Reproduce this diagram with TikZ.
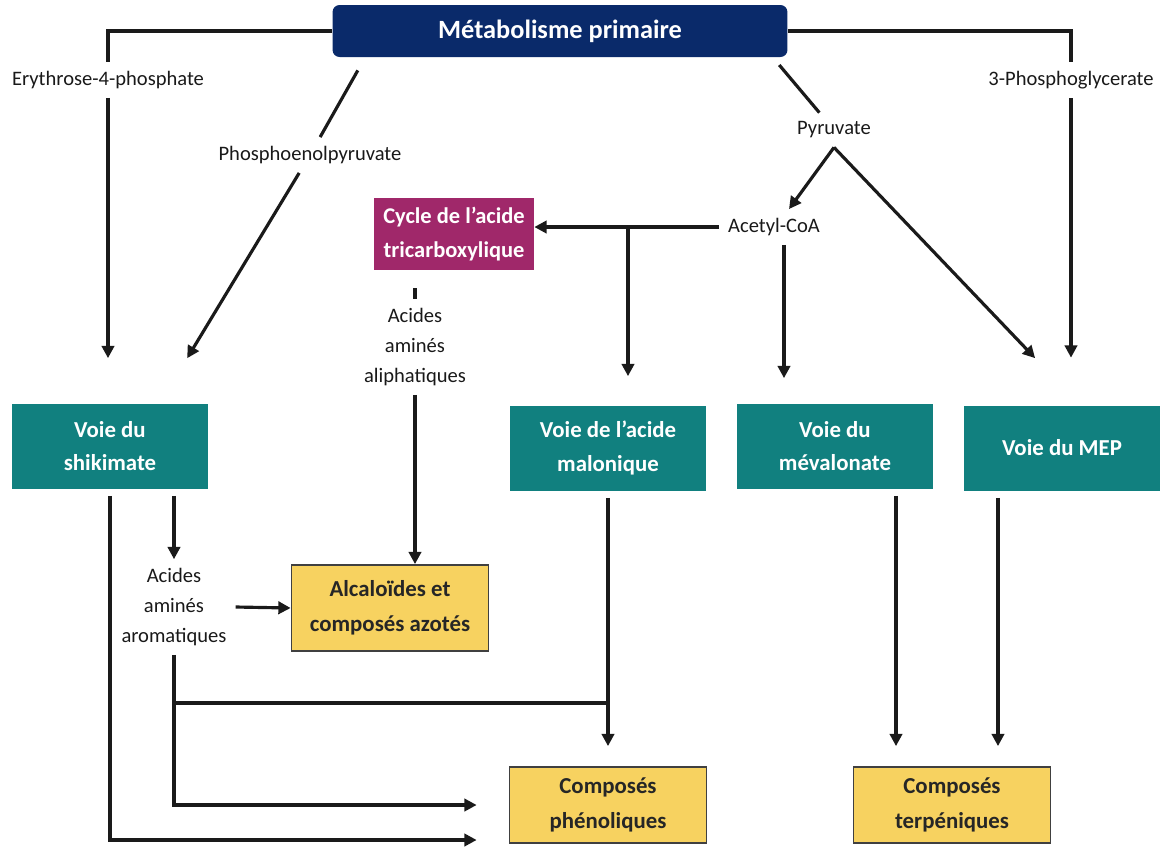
\documentclass[tikz,border=0pt]{standalone}
\usepackage{fontspec}
\setmainfont{Carlito}
\usetikzlibrary{arrows.meta, positioning}

\definecolor{bleunuit}{HTML}{0A2A6A}
\definecolor{sarcelle}{HTML}{11807F}
\definecolor{prune}{HTML}{A0286A}
\definecolor{jaune}{HTML}{F7D260}
\definecolor{trait}{HTML}{1A1A1A}

\tikzset{
  voie/.style={rectangle, fill=sarcelle, text=white, align=center,
    font=\fontsize{13}{19}\selectfont\bfseries, minimum width=3.94cm, minimum height=1.7cm},
  produit/.style={rectangle, fill=jaune, draw=black!75, line width=1pt, text=black!85,
    align=center, font=\fontsize{13}{20}\selectfont\bfseries, minimum width=3.94cm},
  etiq/.style={align=center, inner sep=5pt, font=\fontsize{11.7}{17}\selectfont, text=black!90},
  ligne/.style={color=trait, line width=1.8pt},
  fleche/.style={ligne, -{Triangle[length=7pt, width=7pt]}},
}

\begin{document}
\begin{tikzpicture}[x=0.02cm, y=-0.02cm]
        \useasboundingbox (0,0) rectangle (1161,850);
        \node[rectangle, rounded corners=4pt, fill=bleunuit, text=white, font=\fontsize{15}{18}\selectfont\bfseries,
              minimum width=9.1cm, minimum height=1.04cm] (metab) at (560,31) {Métabolisme primaire};
        \node[voie]                                 (shik)  at (110,446) {Voie du\\shikimate};
        \node[voie]                                 (malo)  at (608,448) {Voie de l’acide\\malonique};
        \node[voie]                                 (meva)  at (835,446) {Voie du\\mévalonate};
        \node[voie]                                 (mep)   at (1062,448) {Voie du MEP};
        \node[rectangle, fill=prune, text=white, align=center, font=\fontsize{12.8}{19}\selectfont\bfseries,
              minimum width=3.2cm, minimum height=1.44cm] (cycle) at (454,234) {Cycle de l’acide\\tricarboxylique};
        \node[produit, minimum height=1.72cm]      (alca)  at (390,608) {Alcaloïdes et\\composés azotés};
        \node[produit, minimum height=1.52cm]      (phen)  at (608,805) {Composés\\phénoliques};
        \node[produit, minimum height=1.52cm]      (terp)  at (952,805) {Composés\\terpéniques};
        \node[etiq]                                 (ery)   at (108,80)  {Erythrose-4-phosphate};
        \node[etiq]                                 (pgly)  at (1071,80) {3-Phosphoglycerate};
        \node[etiq]                                 (pep)   at (310,155) {Phosphoenolpyruvate};
        \node[etiq]                                 (pyr)   at (834,130) {Pyruvate};
        \node[etiq]                                 (acoa)  at (774,227) {Acetyl-CoA};
        \node[etiq]                                 (aliph) at (415,347) {Acides\\aminés\\aliphatiques};
        \node[etiq]                                 (arom)  at (174,607) {Acides\\aminés\\aromatiques};
        \coordinate                                 (jonc)  at (608,703);
        \draw[ligne] (metab.west) -| (ery.north);
        \draw[ligne] (metab.east) -| (pgly.north);
        \draw[ligne, shorten <=0.3cm] ([xshift=0.66cm]metab.south west) -- (pep);
        \draw[ligne, shorten <=0.2cm] ([xshift=-0.3cm]metab.south east) -- (pyr);
        \draw[ligne, shorten <=0.36cm] (cycle.south -| aliph.north) -- (aliph.north);
        \draw[ligne] (arom.south |- jonc) -- (jonc);
        \path[fleche]
          (ery.south)  edge [shorten >=0.9cm]  (ery.south |- shik.north)
          (pgly.south) edge [shorten >=0.95cm] (pgly.south |- mep.north)
          (pep)        edge [shorten >=1.05cm] ([xshift=1cm]shik.north)
          (pyr.south)  edge []                 ([xshift=0.3cm]acoa.north)
                       edge [shorten >=1.3cm]  ([xshift=0.36cm]mep.north)
          (acoa.west)  edge []                 (acoa.west -| cycle.east)
          ([xshift=0.4cm]malo.north |- acoa.west) edge [shorten >=0.58cm] ([xshift=0.4cm]malo.north)
          ([xshift=0.2cm]acoa.south) edge [shorten >=0.5cm] ([xshift=0.2cm]acoa.south |- meva.north)
          (aliph.south) edge []                (aliph.south |- alca.north)
          (shik.south -| arom.north) edge [shorten <=0.14cm] (arom.north)
          (arom.east)  edge []                 (alca.west)
          (malo.south) edge [shorten <=0.14cm, shorten >=0.4cm] (phen.north)
          ([xshift=-1.12cm]terp.north |- meva.south) edge [shorten <=0.14cm, shorten >=0.4cm] ([xshift=-1.12cm]terp.north)
          ([xshift=0.92cm]terp.north |- mep.south)   edge [shorten <=0.14cm, shorten >=0.4cm] ([xshift=0.92cm]terp.north);
        \draw[fleche, shorten >=0.64cm] (arom.south) |- (phen.west);
        \draw[fleche, shorten <=0.14cm, shorten >=0.64cm] (shik.south) |- ([yshift=-0.7cm]phen.west);
\end{tikzpicture}
\end{document}
